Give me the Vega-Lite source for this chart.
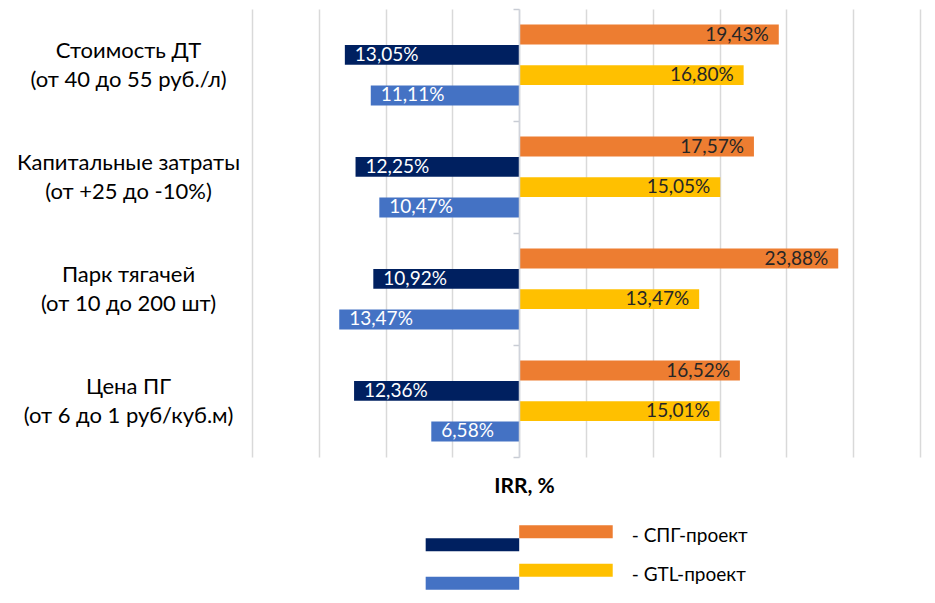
{
  "$schema": "https://vega.github.io/schema/vega-lite/v6.json",
  "background": "white",
  "padding": {"top": 8, "left": 16, "right": 5, "bottom": 5},
  "config": {"font": "Lato", "view": {"stroke": null}, "concat": {"spacing": 23}},
  "resolve": {"scale": {"x": "independent", "y": "independent", "yOffset": "independent"}},
  "datasets": {
    "main": [
      {"фактор": "Стоимость ДТ (от 40 до 55 руб./л)", "серия": "СПГ, макс", "IRR": 19.43, "подпись": "19,43%"},
      {"фактор": "Стоимость ДТ (от 40 до 55 руб./л)", "серия": "СПГ, мин", "IRR": -13.05, "подпись": "13,05%"},
      {"фактор": "Стоимость ДТ (от 40 до 55 руб./л)", "серия": "GTL, макс", "IRR": 16.80, "подпись": "16,80%"},
      {"фактор": "Стоимость ДТ (от 40 до 55 руб./л)", "серия": "GTL, мин", "IRR": -11.11, "подпись": "11,11%"},
      {"фактор": "Капитальные затраты (от +25 до -10%)", "серия": "СПГ, макс", "IRR": 17.57, "подпись": "17,57%"},
      {"фактор": "Капитальные затраты (от +25 до -10%)", "серия": "СПГ, мин", "IRR": -12.25, "подпись": "12,25%"},
      {"фактор": "Капитальные затраты (от +25 до -10%)", "серия": "GTL, макс", "IRR": 15.05, "подпись": "15,05%"},
      {"фактор": "Капитальные затраты (от +25 до -10%)", "серия": "GTL, мин", "IRR": -10.47, "подпись": "10,47%"},
      {"фактор": "Парк тягачей (от 10 до 200 шт)", "серия": "СПГ, макс", "IRR": 23.88, "подпись": "23,88%"},
      {"фактор": "Парк тягачей (от 10 до 200 шт)", "серия": "СПГ, мин", "IRR": -10.92, "подпись": "10,92%"},
      {"фактор": "Парк тягачей (от 10 до 200 шт)", "серия": "GTL, макс", "IRR": 13.47, "подпись": "13,47%"},
      {"фактор": "Парк тягачей (от 10 до 200 шт)", "серия": "GTL, мин", "IRR": -13.47, "подпись": "13,47%"},
      {"фактор": "Цена ПГ (от 6 до 1 руб/куб.м)", "серия": "СПГ, макс", "IRR": 16.52, "подпись": "16,52%"},
      {"фактор": "Цена ПГ (от 6 до 1 руб/куб.м)", "серия": "СПГ, мин", "IRR": -12.36, "подпись": "12,36%"},
      {"фактор": "Цена ПГ (от 6 до 1 руб/куб.м)", "серия": "GTL, макс", "IRR": 15.01, "подпись": "15,01%"},
      {"фактор": "Цена ПГ (от 6 до 1 руб/куб.м)", "серия": "GTL, мин", "IRR": -6.58, "подпись": "6,58%"}
    ],
    "legend": [
      {"проект": "СПГ-проект", "серия": "СПГ, макс", "позиция": "верх", "IRR": 7, "подпись": "- СПГ-проект"},
      {"проект": "СПГ-проект", "серия": "СПГ, мин", "позиция": "низ", "IRR": -7, "подпись": "- СПГ-проект"},
      {"проект": "GTL-проект", "серия": "GTL, макс", "позиция": "верх", "IRR": 7, "подпись": "- GTL-проект"},
      {"проект": "GTL-проект", "серия": "GTL, мин", "позиция": "низ", "IRR": -7, "подпись": "- GTL-проект"}
    ]
  },
  "vconcat": [
    {
      "width": 668,
      "height": 448,
      "data": {"name": "main"},
      "encoding": {
        "x": {
          "field": "IRR",
          "type": "quantitative",
          "scale": {"domain": [-20, 30], "nice": false, "zero": false},
          "axis": {
            "values": [-20, -15, -10, -5, 0, 5, 10, 15, 20, 25, 30],
            "grid": true,
            "gridColor": "#D9D9D9",
            "gridWidth": 1.5,
            "labels": false,
            "ticks": false,
            "domain": false,
            "title": "IRR, %",
            "titleFontWeight": "bold",
            "titleFontSize": 21,
            "titleColor": "#000000",
            "titlePadding": 18,
            "titleX": 272
          }
        }
      },
      "layer": [
        {
          "encoding": {
            "y": {
              "field": "фактор",
              "type": "nominal",
              "sort": null,
              "scale": {"paddingInner": 0, "paddingOuter": 0},
              "axis": {
                "title": null,
                "domain": false,
                "ticks": false,
                "labelAlign": "center",
                "labelBaseline": "middle",
                "labelPadding": 124,
                "labelOffset": -14,
                "labelFontSize": 22,
                "labelColor": "#000000",
                "labelLineHeight": 29,
                "labelLimit": 400,
                "labelExpr": "split(replace(datum.label, ' (', '|('), '|')"
              }
            },
            "yOffset": {
              "field": "серия",
              "type": "nominal",
              "sort": ["СПГ, макс", "СПГ, мин", "GTL, макс", "GTL, мин"],
              "scale": {"domain": ["СПГ, макс", "СПГ, мин", "GTL, макс", "GTL, мин"], "paddingInner": 0.02, "paddingOuter": 0.77}
            }
          },
          "layer": [
            {
              "mark": {"type": "bar"},
              "encoding": {
                "color": {
                  "field": "серия",
                  "type": "nominal",
                  "scale": {"domain": ["СПГ, макс", "СПГ, мин", "GTL, макс", "GTL, мин"], "range": ["#ED7D31", "#002060", "#FFC000", "#4472C4"]},
                  "legend": null
                }
              }
            },
            {
              "transform": [{"filter": "datum.IRR > 0"}],
              "mark": {"type": "text", "align": "right", "baseline": "middle", "dx": -10, "fontSize": 19, "color": "#262626"},
              "encoding": {"text": {"field": "подпись", "type": "nominal"}}
            },
            {
              "transform": [{"filter": "datum.IRR < 0"}],
              "mark": {"type": "text", "align": "left", "baseline": "middle", "dx": 10, "fontSize": 19, "color": "#FFFFFF"},
              "encoding": {"text": {"field": "подпись", "type": "nominal"}}
            }
          ]
        },
        {
          "mark": {"type": "rule", "opacity": 0},
          "encoding": {
            "x": {"datum": 0},
            "y": {
              "field": "фактор",
              "type": "nominal",
              "sort": null,
              "axis": {
                "orient": "left",
                "offset": -267,
                "labels": false,
                "title": null,
                "ticks": true,
                "tickBand": "extent",
                "tickSize": 6,
                "tickColor": "#C8CCD4",
                "tickWidth": 1.5,
                "domain": true,
                "domainColor": "#D0D4DC",
                "domainWidth": 1.5,
                "grid": false,
                "zindex": 1
              }
            }
          }
        }
      ],
      "resolve": {"axis": {"y": "independent"}}
    },
    {
      "width": 668,
      "height": 77,
      "data": {"name": "legend"},
      "encoding": {
        "y": {"field": "проект", "type": "nominal", "sort": null, "scale": {"paddingInner": 0, "paddingOuter": 0}, "axis": null}
      },
      "layer": [
        {
          "mark": {"type": "bar"},
          "encoding": {
            "x": {"field": "IRR", "type": "quantitative", "scale": {"domain": [-20, 30], "nice": false, "zero": true}, "axis": null},
            "yOffset": {"field": "позиция", "type": "nominal", "sort": ["верх", "низ"], "scale": {"domain": ["верх", "низ"], "paddingInner": 0, "paddingOuter": 0.48}},
            "color": {
              "field": "серия",
              "type": "nominal",
              "scale": {"domain": ["СПГ, макс", "СПГ, мин", "GTL, макс", "GTL, мин"], "range": ["#ED7D31", "#002060", "#FFC000", "#4472C4"]},
              "legend": null
            }
          }
        },
        {
          "transform": [{"filter": "datum['позиция'] == 'верх'"}],
          "mark": {"type": "text", "align": "left", "baseline": "middle", "dx": 19, "dy": -2, "fontSize": 19, "color": "#000000"},
          "encoding": {
            "x": {"datum": 7, "type": "quantitative"},
            "text": {"field": "подпись", "type": "nominal"}
          }
        }
      ]
    }
  ]
}
